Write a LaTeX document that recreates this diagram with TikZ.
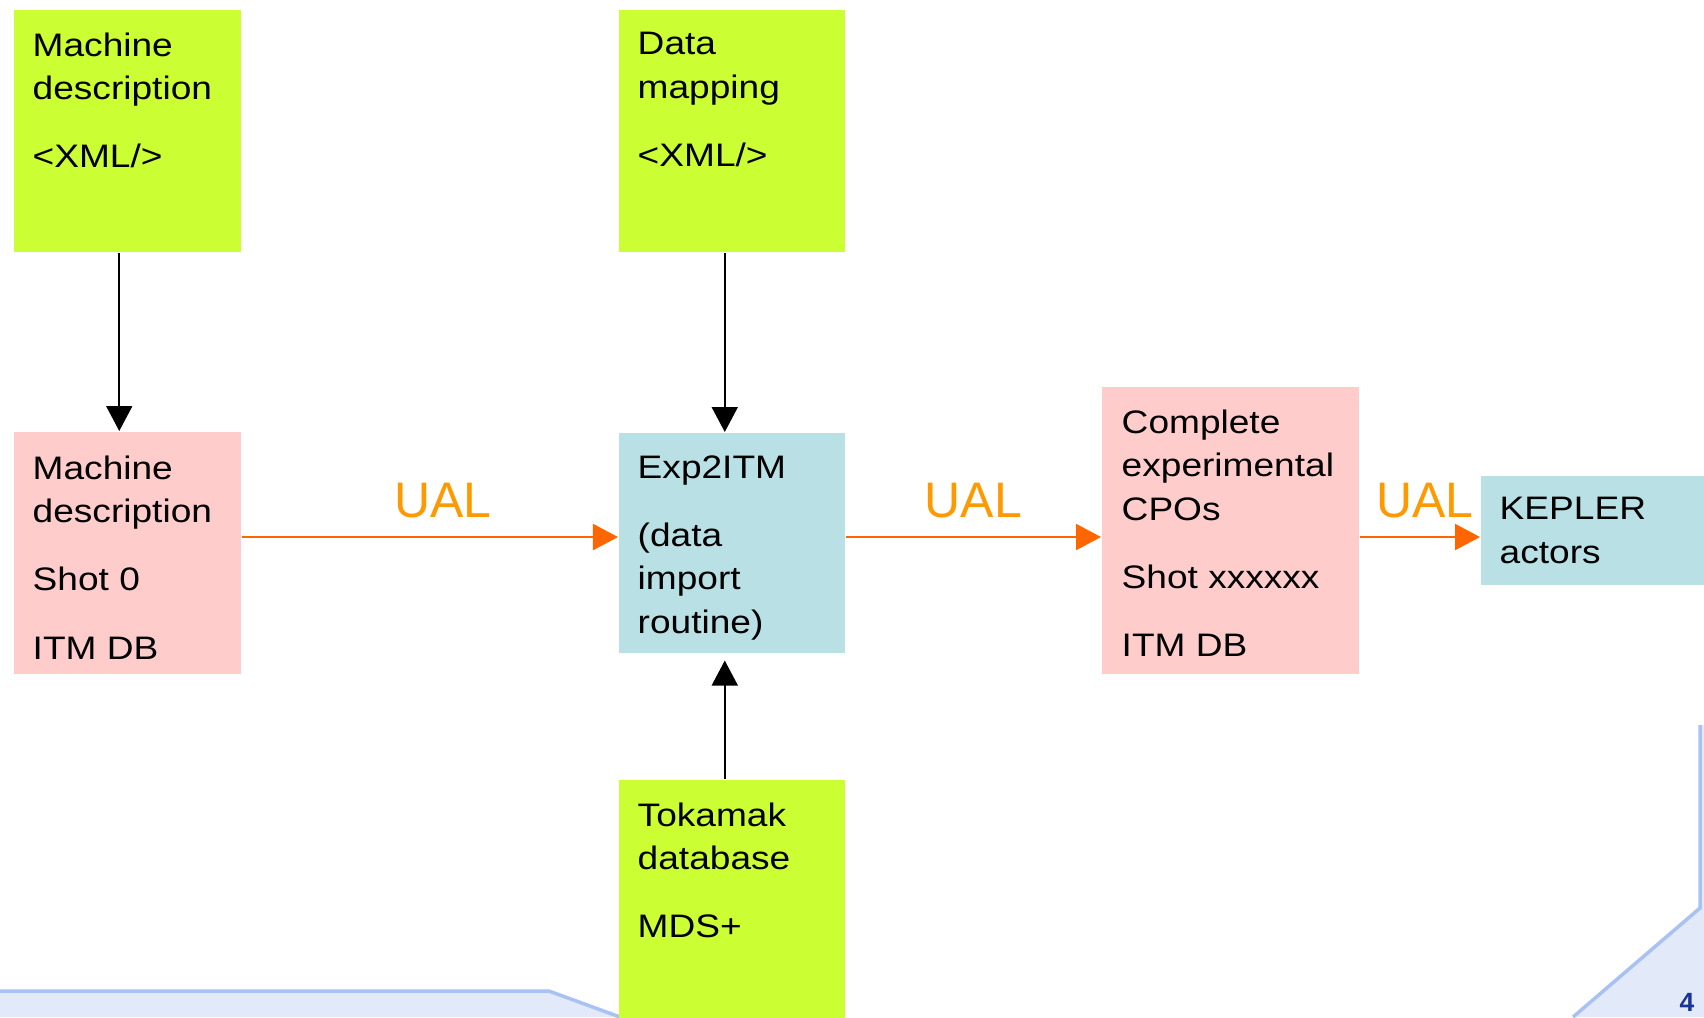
\documentclass[tikz,border=0pt]{standalone}
\usepackage{fontspec}
\setmainfont{Liberation Sans}
\newfontfamily\boxfont[FakeStretch=1.14]{Liberation Sans}
\usetikzlibrary{arrows.meta}
\definecolor{limegreen}{HTML}{CCFF33}
\definecolor{rosepink}{HTML}{FFCCCC}
\definecolor{paleteal}{HTML}{B9E0E4}
\definecolor{ualorange}{HTML}{FF9900}
\definecolor{linkorange}{HTML}{FF6600}
\definecolor{bandfill}{HTML}{E2E9F8}
\definecolor{bandline}{HTML}{A9C1F3}
\definecolor{pagenum}{HTML}{16349A}
\tikzstyle{block} = [rectangle, anchor=north west, inner sep=0pt, draw=none]
\tikzstyle{txt} = [anchor=north west, align=left, inner sep=0pt, font=\boxfont\fontsize{9.25}{12.4}\selectfont]
\tikzstyle{ual} = [text=ualorange, inner sep=0pt, font=\fontsize{14.2}{17}\selectfont]
\tikzstyle{flow} = [draw=linkorange, line width=0.6pt, -{Triangle[length=0.25cm,width=0.26cm]}]
\tikzstyle{arrow} = [draw=black, line width=0.5pt, -{Triangle[length=0.25cm,width=0.26cm]}]

\begin{document}
\begin{tikzpicture}[x=0.01cm, y=-0.01cm]
            \useasboundingbox (0,0) rectangle (1704,1017);

            % slide template
            \fill[bandfill] (0,991) -- (549,991) -- (620,1017) -- (0,1017) -- cycle;
            \draw[bandline, line width=1pt] (0,991) -- (549,991) -- (620,1017);
            \fill[bandfill] (1700,725) -- (1704,725) -- (1704,1017) -- (1573,1017) -- (1700,908) -- cycle;
            \draw[bandline, line width=1pt] (1700,725) -- (1700,908) -- (1573,1017);
            \node(pgnum) [text=pagenum, font=\bfseries\fontsize{7.5}{8}\selectfont] at (1687,1002) {4};

            \node(mdxml) [block, fill=limegreen, minimum width=2.27cm, minimum height=2.42cm] at (13,9) {};
            \node(dmxml) [block, fill=limegreen, minimum width=2.26cm, minimum height=2.42cm] at (618,9) {};
            \node(mdshot) [block, fill=rosepink, minimum width=2.27cm, minimum height=2.42cm] at (13,431) {};
            \node(exp) [block, fill=paleteal, minimum width=2.26cm, minimum height=2.20cm] at (618,432) {};
            \node(tok) [block, fill=limegreen, minimum width=2.26cm, minimum height=2.38cm] at (618,779) {};
            \node(cpo) [block, fill=rosepink, minimum width=2.57cm, minimum height=2.87cm] at (1101,386) {};
            \node(kep) [block, fill=paleteal, minimum width=2.24cm, minimum height=1.09cm] at (1480,475) {};

            \node(mdxmltxt) [txt] at ([xshift=0.19cm, yshift=-0.227cm]mdxml.north west) {Machine\\description\\[7pt]<XML/>};
            \node(dmxmltxt) [txt] at ([xshift=0.19cm, yshift=-0.227cm]dmxml.north west) {Data\\mapping\\[7pt]<XML/>};
            \node(mdshottxt) [txt] at ([xshift=0.19cm, yshift=-0.237cm]mdshot.north west) {Machine\\description\\[7pt]Shot 0\\[7pt]ITM DB};
            \node(exptxt) [txt] at ([xshift=0.19cm, yshift=-0.227cm]exp.north west) {Exp2ITM\\[7pt](data\\import\\routine)};
            \node(toktxt) [txt] at ([xshift=0.19cm, yshift=-0.227cm]tok.north west) {Tokamak\\database\\[7pt]MDS+};
            \node(cpotxt) [txt] at ([xshift=0.2cm, yshift=-0.227cm]cpo.north west) {Complete\\experimental\\CPOs\\[7pt]Shot xxxxxx\\[7pt]ITM DB};
            \node(keptxt) [txt] at ([xshift=0.19cm, yshift=-0.217cm]kep.north west) {KEPLER\\actors};

            \coordinate(lane) at (0,537);

            \draw[arrow] ([xshift=-0.08cm]mdxml.south) -- ([xshift=-0.08cm]mdshot.north);
            \draw[arrow] ([xshift=-0.07cm]dmxml.south) -- ([xshift=-0.07cm]exp.north);
            \draw[arrow] ([xshift=-0.07cm]tok.north) -- ([xshift=-0.07cm, yshift=-0.07cm]exp.south);

            \draw[flow] (mdshot.east |- lane) -- node[ual, above=0.18cm, xshift=0.13cm]{UAL} (exp.west |- lane);
            \draw[flow] (exp.east |- lane) -- node[ual, above=0.18cm]{UAL} (cpo.west |- lane);
            \draw[flow] (cpo.east |- lane) -- node[ual, above=0.18cm, xshift=0.05cm]{UAL} (kep.west |- lane);
        \end{tikzpicture}
\end{document}
